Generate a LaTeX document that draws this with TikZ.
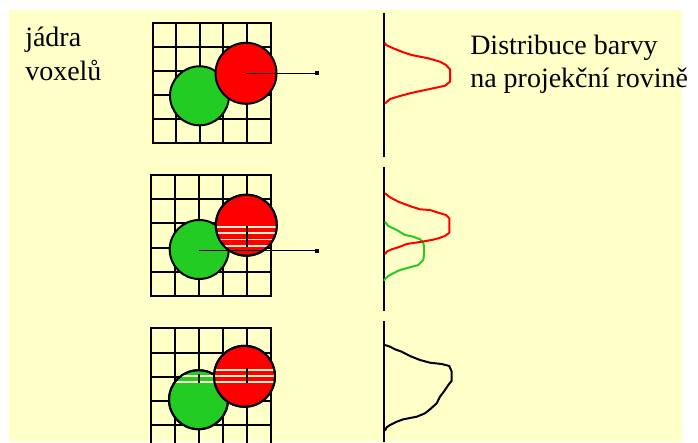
\documentclass[tikz,border=0pt]{standalone}
\usepackage{fontspec}
\setmainfont{Liberation Serif}
\newfontfamily\captionserif{Liberation Serif}
\usetikzlibrary{arrows.meta}
\definecolor{paper}{RGB}{255,255,200}
\definecolor{redvox}{RGB}{255,0,0}
\definecolor{greenvox}{RGB}{34,204,34}
\definecolor{stripe}{RGB}{255,244,205}
\begin{document}
\begin{tikzpicture}[x=0.75pt,y=-0.75pt,
  gridline/.style={line width=1.5pt,line cap=rect},
  axisline/.style={line width=1.5pt},
  profile/.style={line width=1.5pt,line join=round},
  kernel/.style={circle,draw=black,line width=1.5pt,inner sep=0pt},
  redkernel/.style={kernel,fill=redvox,minimum size=45.75pt},
  greenkernel/.style={kernel,fill=greenvox,minimum size=44.25pt},
  stripeline/.style={draw=stripe,line width=1.2pt},
  ray/.style={line width=1pt,-{Square[length=3pt,width=3pt]}},
  label/.style={anchor=base west,inner sep=0pt,font=\captionserif\fontsize{21}{25}\selectfont}]

% page and paper
\fill[white] (0,0) rectangle (698,442);
\useasboundingbox (0,0) rectangle (698,442);
\fill[paper] (9,10) rectangle (682,442);

% ---------- row 1: two kernels, no overlap handling ----------
\foreach \i in {0,...,5} \draw[gridline] ({152.5+23.6*\i},23.3) -- ({152.5+23.6*\i},142.7);
\foreach \j in {0,...,5} \draw[gridline] (152.5,{23.3+23.88*\j}) -- (270.5,{23.3+23.88*\j});
\node[greenkernel] (g1) at (199.5,95.8) {};
\node[redkernel] (r1) at (246,73.3) {};
\coordinate (e1) at (319,73.3);
\draw[ray] (r1.center) -- (e1);

% profile 1
\draw[axisline] (384,13) -- (384,156.7);
\draw[profile,redvox] plot coordinates {(385,42.7) (386,45) (393.3,48.3) (403.3,52.3) (411.7,55)
  (428.3,58.3) (440,61.7) (446,65) (450,69.3) (450,81.7) (445,85.7) (433.3,88.3) (421.7,90.7)
  (410,93.3) (400,96) (390,99) (386,102.7) (385,103.3)};

% ---------- row 2: red kernel partly accumulated ----------
\foreach \i in {0,...,5} \draw[gridline] ({151+23.94*\i},175) -- ({151+23.94*\i},296);
\foreach \j in {0,...,5} \draw[gridline] (151,{175+24.2*\j}) -- (270.7,{175+24.2*\j});
\node[greenkernel] (g2) at (199.2,249.5) {};
\node[redkernel] (r2) at (246.3,225.2) {};
\begin{scope}
  \clip (246.3,225.2) circle (30.5);
  \foreach \y in {226.7,232.7,239.3,246} \draw[stripeline] (200,\y) -- (290,\y);
  \draw[line width=1.2pt] (246.9,226) -- (246.9,247);
\end{scope}
\draw[line width=1.5pt] (r2) circle (30.5);
\coordinate (e2) at (319,250.7);
\draw[ray] (g2.center |- e2) -- (e2);

% profile 2
\draw[axisline] (384,167.3) -- (384,311);
\draw[profile,greenvox] plot coordinates {(385,221.7) (388.3,226) (396.7,230) (405,235)
  (413.3,236.7) (420,239.3) (423.3,242.7) (424,246.7) (424,254) (423.3,260) (418.3,265)
  (410,267.3) (400,270) (393.3,273.3) (388.3,276) (385,279.3) (384,280.7)};
\draw[profile,redvox] plot coordinates {(385,193.3) (390,197.3) (398.3,201.7) (411.7,206.7)
  (420,209.3) (430,210) (438.3,212.7) (446,215) (449.3,218.3) (449.3,232.7) (445,236)
  (438.3,238.3) (431.7,240) (421.7,241.7) (406.7,244) (400,246.7) (391.7,249.3) (386.7,251.7)
  (385,254.3)};

% ---------- row 3: both kernels accumulated ----------
\foreach \i in {0,...,5} \draw[gridline] ({151+23.94*\i},328.3) -- ({151+23.94*\i},442);
\foreach \j in {0,...,4} \draw[gridline] (151,{328.3+24.2*\j}) -- (270.7,{328.3+24.2*\j});
\node[greenkernel] (g3) at (198.5,399.7) {};
\begin{scope}
  \clip (198.5,399.7) circle (29.5);
  \foreach \y in {376,381.7} \draw[stripeline] (160,\y) -- (240,\y);
  \draw[line width=1.2pt] (198.9,374) -- (198.9,383);
\end{scope}
\draw[line width=1.5pt] (g3) circle (29.5);
\node[redkernel] (r3) at (244.5,376.3) {};
\begin{scope}
  \clip (244.5,376.3) circle (30.5);
  \foreach \y in {370,376,381.7} \draw[stripeline] (200,\y) -- (290,\y);
  \draw[line width=1.2pt] (246.9,368) -- (246.9,383);
\end{scope}
\draw[line width=1.5pt] (r3) circle (30.5);

% profile 3
\draw[axisline] (384,321) -- (384,442);
\draw[profile,black] plot coordinates {(385,345) (390,346.7) (395,349.3) (401.7,351.7) (410,356)
  (420,360) (430,362.7) (441.7,364) (449.3,366) (451.7,371.7) (451.7,380.7) (448.3,385)
  (445,390) (440,396.7) (436.7,403.3) (430,409.3) (425,413.3) (416.7,416.7) (403.3,419.3)
  (396.7,421.7) (390,425) (386.7,427.3) (385,430.7)};

% ---------- labels ----------
\node[label] (k1) at (25,47) {jádra};
\node[label] (k2) at (25,81) {voxelů};
\node[label] (d1) at (470,55) {Distribuce barvy};
\node[label] (d2) at (470,88) {na projekční rovině};
\end{tikzpicture}
\end{document}
